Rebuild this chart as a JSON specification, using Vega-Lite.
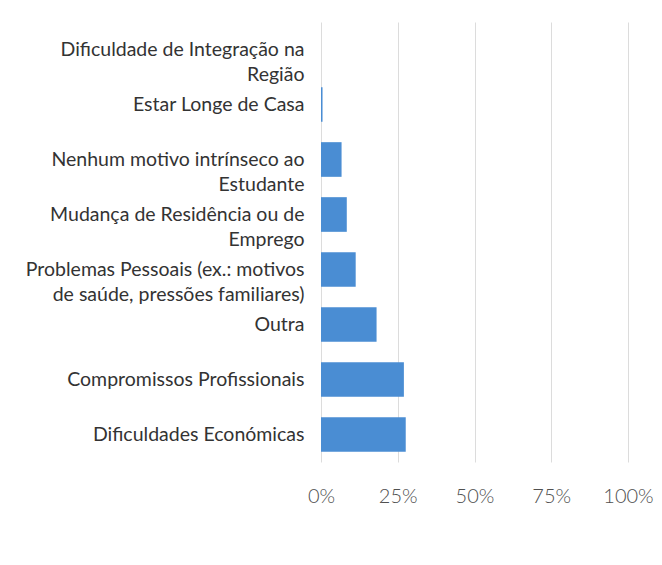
{
  "$schema": "https://vega.github.io/schema/vega-lite/v6.json",
  "autosize": "none",
  "padding": {"left": 321, "top": 22, "right": 34, "bottom": 103},
  "width": 307,
  "height": 440,
  "background": "white",
  "data": {
    "values": [
      {"motivo": "Dificuldade de Integração na Região", "percentagem": 0.0},
      {"motivo": "Estar Longe de Casa", "percentagem": 0.005},
      {"motivo": "Nenhum motivo intrínseco ao Estudante", "percentagem": 0.067},
      {"motivo": "Mudança de Residência ou de Emprego", "percentagem": 0.084},
      {"motivo": "Problemas Pessoais (ex.: motivos de saúde, pressões familiares)", "percentagem": 0.113},
      {"motivo": "Outra", "percentagem": 0.181},
      {"motivo": "Compromissos Profissionais", "percentagem": 0.27},
      {"motivo": "Dificuldades Económicas", "percentagem": 0.276}
    ]
  },
  "mark": {"type": "bar", "color": "#4a8dd3"},
  "encoding": {
    "y": {
      "field": "motivo",
      "type": "nominal",
      "sort": null,
      "scale": {"paddingInner": 0.37, "paddingOuter": 0.185},
      "axis": {
        "title": null,
        "domain": false,
        "ticks": false,
        "labelPadding": 17,
        "labelFont": "Lato",
        "labelFontSize": 19.5,
        "labelFontWeight": "normal",
        "labelColor": "#333333",
        "labelLimit": 400,
        "labelLineHeight": 25,
        "labelExpr": "datum.label == 'Dificuldade de Integração na Região' ? ['Dificuldade de Integração na', 'Região'] : datum.label == 'Nenhum motivo intrínseco ao Estudante' ? ['Nenhum motivo intrínseco ao', 'Estudante'] : datum.label == 'Mudança de Residência ou de Emprego' ? ['Mudança de Residência ou de', 'Emprego'] : datum.label == 'Problemas Pessoais (ex.: motivos de saúde, pressões familiares)' ? ['Problemas Pessoais (ex.: motivos', 'de saúde, pressões familiares)'] : datum.label"
      }
    },
    "x": {
      "field": "percentagem",
      "type": "quantitative",
      "scale": {"domain": [0, 1]},
      "axis": {
        "title": null,
        "format": ".0%",
        "values": [0, 0.25, 0.5, 0.75, 1],
        "domain": false,
        "ticks": false,
        "grid": true,
        "gridColor": "#dcdcdc",
        "labelFlush": false,
        "labelPadding": 24,
        "labelFont": "Lato",
        "labelFontSize": 20,
        "labelFontWeight": 300,
        "labelColor": "#505050"
      }
    }
  },
  "config": {"view": {"stroke": null}}
}
